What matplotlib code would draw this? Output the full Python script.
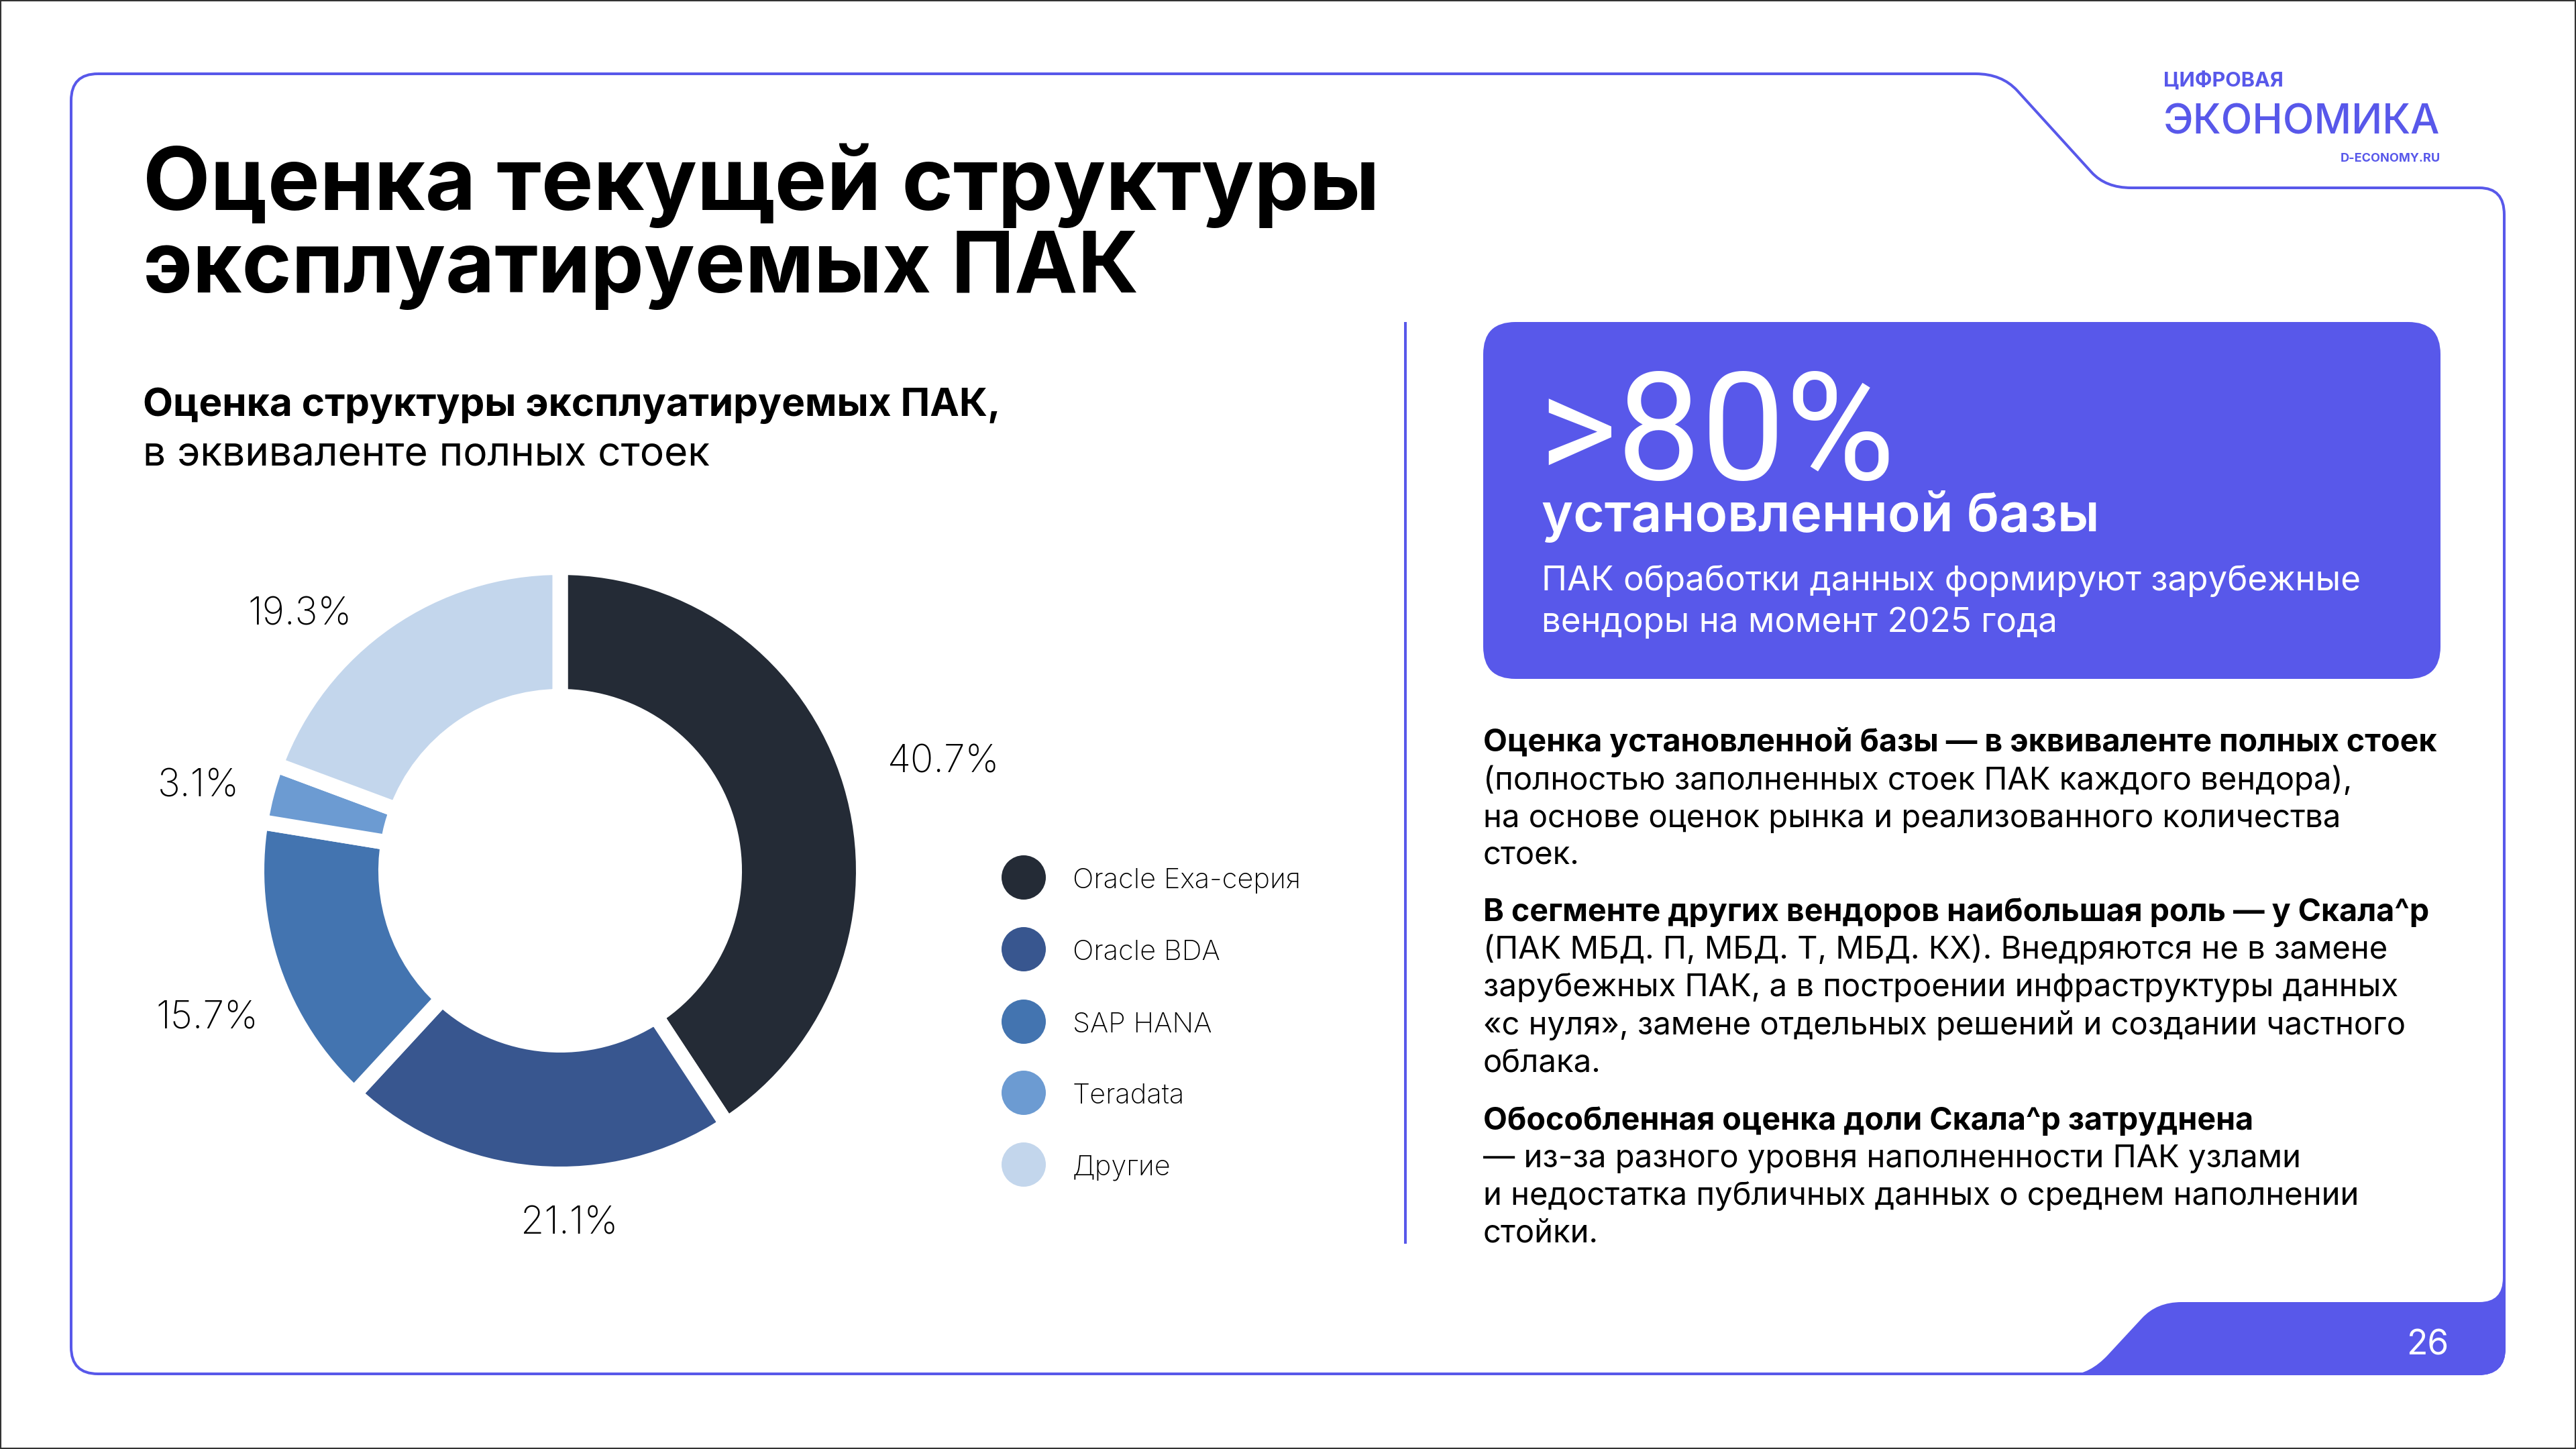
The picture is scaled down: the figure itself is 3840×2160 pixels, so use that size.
import matplotlib
matplotlib.use("Agg")
import matplotlib.pyplot as plt
from matplotlib.path import Path
from matplotlib.patches import PathPatch, FancyBboxPatch, Rectangle

plt.rcParams['font.family'] = ['Inter', 'Open Sans', 'DejaVu Sans']

# Data
categories = ["Oracle Exa-серия", "Oracle BDA", "SAP HANA", "Teradata", "Другие"]
shares = [40.7, 21.1, 15.7, 3.1, 19.3]
colors = ["#242B36", "#38568F", "#4374B0", "#6C9BD2", "#C3D6EC"]

title_lines = ["Оценка текущей структуры", "эксплуатируемых ПАК"]
para_1 = ["Оценка установленной базы — в эквиваленте полных стоек",
          "(полностью заполненных стоек ПАК каждого вендора),",
          "на основе оценок рынка и реализованного количества",
          "стоек."]
para_2 = ["В сегменте других вендоров наибольшая роль — у Скала^р",
          "(ПАК МБД. П, МБД. Т, МБД. КХ). Внедряются не в замене",
          "зарубежных ПАК, а в построении инфраструктуры данных",
          "«с нуля», замене отдельных решений и создании частного",
          "облака."]
para_3 = ["Обособленная оценка доли Скала^р затруднена",
          "— из-за разного уровня наполненности ПАК узлами",
          "и недостатка публичных данных о среднем наполнении",
          "стойки."]

ACCENT = "#5858EA"

fig = plt.figure(figsize=(38.4, 21.6), dpi=100, facecolor="white")
ax = fig.add_axes([0, 0, 1, 1])
ax.set_xlim(0, 3840)
ax.set_ylim(2160, 0)
ax.axis("off")
renderer = fig.canvas.get_renderer()


def fit_size(s, width, weight, family=None):
    # Font size at which the string is the given number of pixels wide.
    t = ax.text(0, 0, s, fontsize=100, fontweight=weight, family=family)
    w = t.get_window_extent(renderer).width
    t.remove()
    return 100 * width / w


def block(lines, x, baselines, size, weight="normal", color="black"):
    for s, y in zip(lines, baselines):
        ax.text(x, y, s, fontsize=size, fontweight=weight, color=color, va="baseline")


# Outer page border and slide frame
ax.add_patch(Rectangle((1, 1), 3838, 2158, fill=False, ec="#333333", lw=1.5))
M, L, C = Path.MOVETO, Path.LINETO, Path.CURVE3
frame = [((146, 110), M), ((2945, 110), L), ((2984, 110), C), ((3007, 135), C),
         ((3118, 257), L), ((3139, 280), C), ((3177, 280), C), ((3696, 280), L),
         ((3733, 280), C), ((3733, 320), C), ((3733, 2010), L), ((3733, 2048), C),
         ((3694, 2048), C), ((146, 2048), L), ((106, 2048), C), ((106, 2008), C),
         ((106, 150), L), ((106, 110), C), ((146, 110), C)]
ax.add_patch(PathPatch(Path([v[0] for v in frame], [v[1] for v in frame]),
                       fill=False, ec=ACCENT, lw=2.9))
tab = [((3085, 2050), M), ((3116, 2048), C), ((3142, 2020), C), ((3193, 1965), L),
       ((3215, 1941), C), ((3252, 1941), C), ((3696, 1941), L), ((3731, 1941), C),
       ((3731, 1905), C), ((3735, 1905), L), ((3735, 2010), L), ((3735, 2050), C),
       ((3694, 2050), C), ((3085, 2050), L)]
ax.add_patch(PathPatch(Path([v[0] for v in tab], [v[1] for v in tab]), fc=ACCENT, ec="none"))
ax.text(3619, 2019, "26", color="white", fontsize=37, ha="center", va="baseline")

# Logo
ax.text(3225, 129, "ЦИФРОВАЯ", color=ACCENT, fontsize=fit_size("ЦИФРОВАЯ", 179, "bold"),
        fontweight="bold", va="baseline")
ax.text(3225, 199, "ЭКОНОМИКА", color=ACCENT, fontsize=fit_size("ЭКОНОМИКА", 413, "medium"),
        fontweight="medium", va="baseline")
ax.text(3638, 241, "D-ECONOMY.RU", color=ACCENT, fontsize=fit_size("D-ECONOMY.RU", 149, "bold"),
        fontweight="bold", ha="right", va="baseline")

# Title and chart heading
ax.text(213, 313, title_lines[0], fontsize=fit_size(title_lines[0], 1844, "bold"),
        fontweight="bold", va="baseline")
ax.text(213, 436, title_lines[1], fontsize=fit_size(title_lines[1], 1484, "bold"),
        fontweight="bold", va="baseline")
size = fit_size("Оценка структуры эксплуатируемых ПАК,", 1278, "bold")
ax.text(213, 620, "Оценка структуры эксплуатируемых ПАК,", fontsize=size, fontweight="bold", va="baseline")
size = fit_size("в эквиваленте полных стоек", 845, "normal")
ax.text(213, 693, "в эквиваленте полных стоек", fontsize=size, va="baseline")

# Donut
pie_ax = fig.add_axes([(835 - 500) / 3840, 1 - (1298 + 500) / 2160, 1000 / 3840, 1000 / 2160])
pie_ax.pie(shares, colors=colors, startangle=90, counterclock=False, radius=452.5,
           wedgeprops=dict(width=193, edgecolor="white", linewidth=16.6))
pie_ax.set_xlim(-500, 500)
pie_ax.set_ylim(-500, 500)
pie_ax.patch.set_alpha(0)

label_x = [1406, 849, 309, 296, 447]
label_y = [1137, 1824, 1518, 1173, 916]
for v, x, y in zip(shares, label_x, label_y):
    ax.text(x, y, f"{v}%", fontsize=41, fontweight="light", ha="center", va="center")

# Legend
legend_y = [1308, 1415, 1523, 1629, 1736]
size = fit_size(categories[0], 340, "light")
ax.scatter([1526] * 5, legend_y, s=(66 * 0.72) ** 2, c=colors, linewidths=0)
for name, y in zip(categories, legend_y):
    ax.text(1599, y + 5, name, fontsize=size, fontweight="light", va="center")

# Divider
ax.plot([2095, 2095], [480, 1854], color=ACCENT, lw=2.9, solid_capstyle="butt")

# Callout box
ax.add_patch(FancyBboxPatch((2211 + 48, 480 + 48), 1427 - 96, 532 - 96,
                            boxstyle="round,pad=48,rounding_size=48", fc=ACCENT, ec="none"))
big_size = fit_size(">80%", 532, "normal", ["Roboto"])
ax.text(2293, 715, ">80%", color="white", fontsize=big_size, family=["Roboto"], va="baseline")
ax.text(2298, 792, "установленной базы", color="white",
        fontsize=fit_size("установленной базы", 832, "semibold"), fontweight="semibold", va="baseline")
size = fit_size("ПАК обработки данных формируют зарубежные", 1221, "normal")
block(["ПАК обработки данных формируют зарубежные", "вендоры на момент 2025 года"],
      2298, [880, 942], size, color="white")

# Right-hand paragraphs
bold_size = fit_size(para_1[0], 1421, "bold")
body_size = fit_size(para_2[3], 1375, "normal")
y1 = [1120, 1177, 1233, 1287]
y2 = [1373, 1429, 1485, 1542, 1597]
y3 = [1684, 1740, 1796, 1852]
for para, ys in zip([para_1, para_2, para_3], [y1, y2, y3]):
    block(para[:1], 2211, ys[:1], bold_size, "bold")
    block(para[1:], 2211, ys[1:], body_size)

fig.savefig("out.png", dpi=100)
